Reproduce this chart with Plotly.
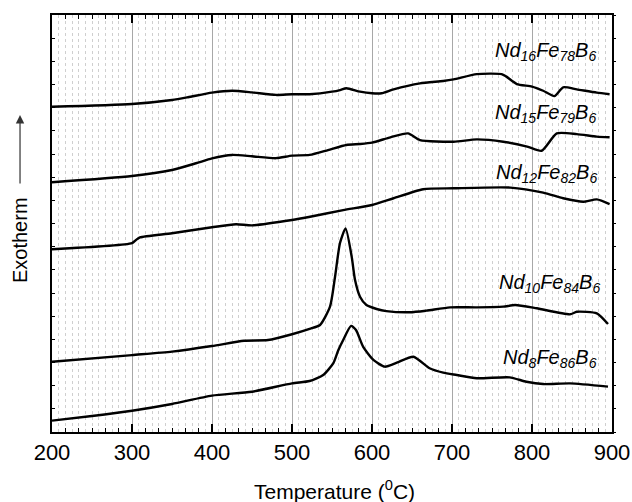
import plotly.graph_objects as go

# ---- data (temperature in °C, signal in arbitrary offset units) ----
t_nd16 = [200, 300, 350, 370, 400, 425, 450, 480, 500, 522, 550, 560, 568, 585, 600, 612, 627, 660, 689, 702, 731, 762, 768, 781, 800, 814, 828, 839, 856, 881, 897]
y_nd16 = [14.04, 14.16, 14.33, 14.45, 14.65, 14.73, 14.66, 14.55, 14.58, 14.58, 14.69, 14.76, 14.84, 14.69, 14.62, 14.62, 14.79, 15.05, 15.15, 15.22, 15.45, 15.45, 15.34, 15.02, 14.91, 14.73, 14.50, 14.88, 14.79, 14.65, 14.58]

t_nd15 = [200, 300, 350, 380, 400, 425, 450, 480, 500, 522, 545, 568, 585, 600, 623, 645, 660, 702, 731, 764, 794, 812, 831, 856, 881, 897]
y_nd15 = [10.78, 11.05, 11.31, 11.60, 11.81, 11.96, 11.90, 11.82, 11.93, 11.96, 12.17, 12.39, 12.43, 12.49, 12.72, 12.89, 12.60, 12.53, 12.63, 12.53, 12.32, 12.14, 12.89, 12.86, 12.75, 12.72]

t_nd12 = [200, 300, 305, 310, 350, 400, 430, 450, 500, 521, 564, 600, 627, 664, 702, 773, 814, 839, 864, 881, 897]
y_nd12 = [7.89, 8.15, 8.29, 8.40, 8.58, 8.84, 8.97, 8.92, 9.15, 9.28, 9.58, 9.80, 10.09, 10.48, 10.52, 10.55, 10.33, 10.09, 9.94, 10.04, 9.84]

t_nd10 = [200, 300, 350, 400, 440, 470, 500, 522, 535, 547.5, 553.8, 560, 567, 574.6, 578.8, 585, 593, 605.8, 618, 647.5, 668, 697.5, 731, 764, 779, 806, 847.5, 856, 881, 895]
y_nd10 = [3.03, 3.32, 3.47, 3.71, 3.94, 3.97, 4.22, 4.45, 4.62, 5.41, 6.70, 8.16, 8.79, 7.57, 6.56, 5.84, 5.48, 5.31, 5.22, 5.17, 5.24, 5.38, 5.38, 5.41, 5.48, 5.34, 5.08, 5.19, 5.12, 4.66]

t_nd8 = [200, 250, 300, 350, 400, 450, 500, 522, 539, 551.7, 558, 564, 573.8, 580, 589, 601.7, 616, 631, 651.7, 672, 689, 706, 731, 772, 793, 814, 847.5, 895]
y_nd8 = [0.49, 0.69, 0.92, 1.21, 1.57, 1.74, 2.10, 2.20, 2.46, 2.97, 3.54, 3.97, 4.58, 4.40, 3.67, 3.11, 2.82, 2.99, 3.25, 2.75, 2.56, 2.46, 2.32, 2.36, 2.17, 2.07, 2.10, 1.96]

series = [
    (t_nd16, y_nd16),
    (t_nd15, y_nd15),
    (t_nd12, y_nd12),
    (t_nd10, y_nd10),
    (t_nd8, y_nd8),
]

labels = [
    "<i>Nd<sub>16</sub>Fe<sub>78</sub>B<sub>6</sub></i>",
    "<i>Nd<sub>15</sub>Fe<sub>79</sub>B<sub>6</sub></i>",
    "<i>Nd<sub>12</sub>Fe<sub>82</sub>B<sub>6</sub></i>",
    "<i>Nd<sub>10</sub>Fe<sub>84</sub>B<sub>6</sub></i>",
    "<i>Nd<sub>8</sub>Fe<sub>86</sub>B<sub>6</sub></i>",
]
label_x = [883, 882, 884, 887, 884]
label_y = [16.42, 13.74, 11.16, 6.42, 3.17]

x_ticks = [200, 300, 400, 500, 600, 700, 800, 900]

FONT = "Liberation Sans, Arial, sans-serif"

fig = go.Figure()
for t, y in series:
    fig.add_trace(go.Scatter(x=t, y=y, mode="lines",
                             line=dict(color="black", width=2.4, shape="spline", smoothing=0.6),
                             showlegend=False, hoverinfo="skip"))

# helper trace to activate overlay axes (minor ticks / right ticks)
fig.add_trace(go.Scatter(x=[None], y=[None], xaxis="x2", yaxis="y2", showlegend=False, hoverinfo="skip"))

fig.update_layout(
    width=632, height=502,
    margin=dict(l=52, r=20, t=15, b=70, autoexpand=False),
    paper_bgcolor="white", plot_bgcolor="white",
    font=dict(family=FONT, color="black"),
    xaxis=dict(range=[200, 900], tickvals=x_ticks, ticktext=[str(v) for v in x_ticks],
               ticks="inside", ticklen=8, tickwidth=1.5, tickcolor="black",
               showline=True, linecolor="black", linewidth=2, mirror="ticks",
               showgrid=True, gridcolor="#a8a8a8", gridwidth=1, automargin=False,
               tickfont=dict(size=22, family=FONT),
               minor=dict(dtick=100/12, tick0=200, showgrid=True, gridcolor="#cfcfcf",
                          griddash="dot", gridwidth=1, ticks=""),
               zeroline=False, fixedrange=True),
    xaxis2=dict(range=[200, 900], overlaying="x", side="bottom", dtick=100/6, tick0=200,
                ticks="inside", ticklen=4, tickwidth=1.2, tickcolor="black", automargin=False,
                mirror="ticks", showline=False, showgrid=False, showticklabels=False,
                zeroline=False),
    yaxis=dict(range=[0, 18], dtick=1, tick0=0, ticks="inside", ticklen=3, tickwidth=1.2,
               tickcolor="black", showticklabels=False, showline=True, linecolor="black",
               linewidth=2, mirror=True, showgrid=False, zeroline=False, automargin=False),
    yaxis2=dict(range=[0, 18], overlaying="y", side="right", dtick=1, tick0=0,
                ticks="outside", ticklen=3, tickwidth=1.2, tickcolor="black", automargin=False,
                showticklabels=False, showline=False, showgrid=False, zeroline=False),
)

for txt, lx, ly in zip(labels, label_x, label_y):
    fig.add_annotation(x=lx, y=ly, xref="x", yref="y", text=txt, showarrow=False,
                       xanchor="right", yanchor="middle",
                       font=dict(size=20, family=FONT, color="black"))

# x axis title
fig.add_annotation(x=0.505, y=(432 - 490) / 417, xref="paper", yref="paper",
                   text="Temperature (<sup>0</sup>C)", showarrow=False,
                   xanchor="center", yanchor="middle",
                   font=dict(size=21, family=FONT, color="black"))

# Exotherm label with arrow
fig.add_annotation(x=-0.0571, y=(432 - 240) / 417, xref="paper", yref="paper",
                   text="Exotherm", textangle=-90, showarrow=False,
                   xanchor="center", yanchor="middle",
                   font=dict(size=20, family=FONT, color="black"))
fig.add_annotation(x=-0.0571, y=(432 - 115) / 417, xref="paper", yref="paper",
                   text="", showarrow=True, ax=0, ay=70, arrowhead=2, arrowsize=1.4,
                   arrowwidth=1.2, arrowcolor="#333333")

fig.write_html("out.html", config={"displayModeBar": False},
               post_script="document.body.style.margin='0';document.body.style.overflow='hidden';")
